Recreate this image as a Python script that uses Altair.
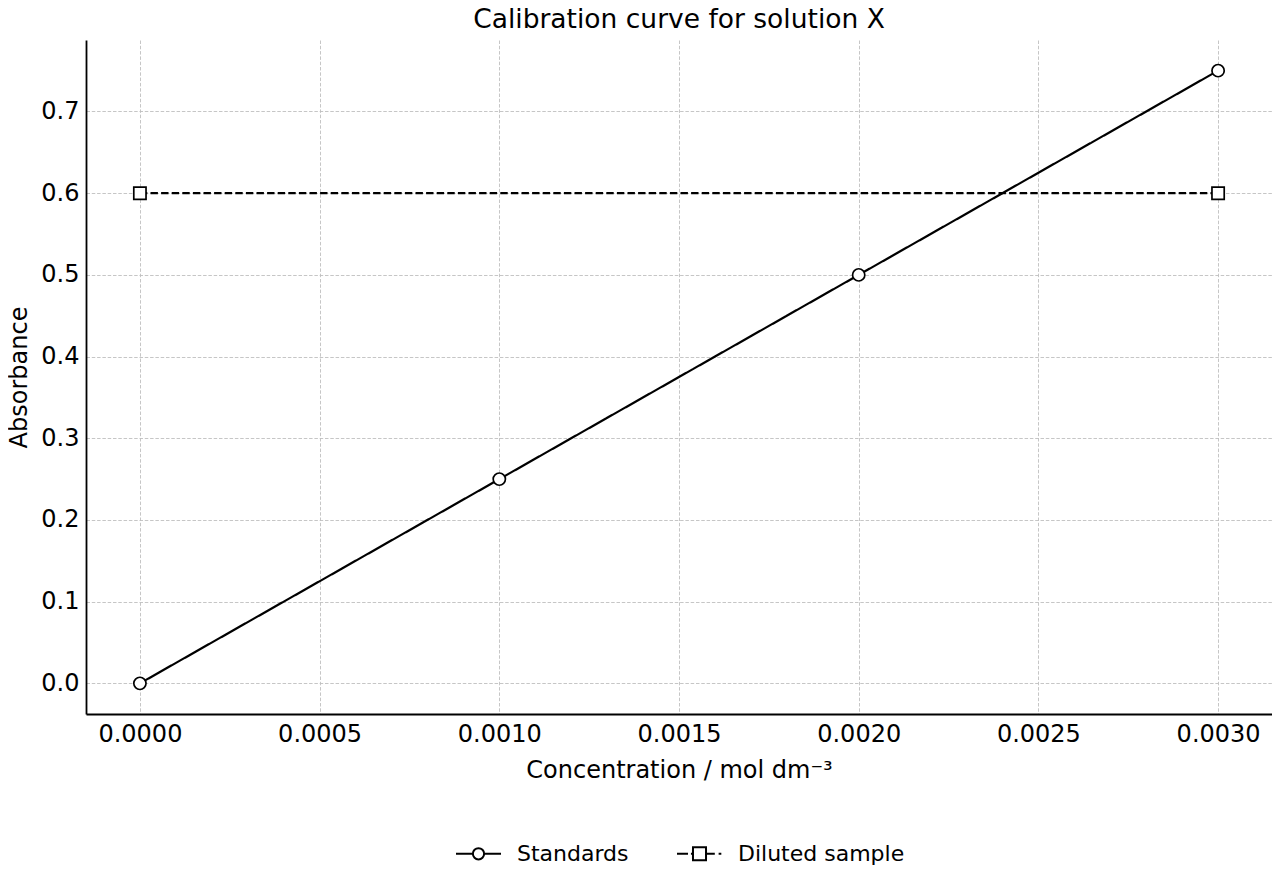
import altair as alt
import pandas as pd

# ---- data ----
std_conc = [0.0, 0.001, 0.002, 0.003]
std_abs = [0.0, 0.25, 0.50, 0.75]
dil_conc = [0.0, 0.003]
dil_abs = [0.60, 0.60]
series_names = ["Standards", "Diluted sample"]
x_ticks = [0.0, 0.0005, 0.001, 0.0015, 0.002, 0.0025, 0.003]
y_ticks = [0.0, 0.1, 0.2, 0.3, 0.4, 0.5, 0.6, 0.7]

df = pd.concat([
    pd.DataFrame({"conc": std_conc, "abs": std_abs, "series": series_names[0]}),
    pd.DataFrame({"conc": dil_conc, "abs": dil_abs, "series": series_names[1]}),
], ignore_index=True)

FONT = "DejaVu Sans"

x_enc = alt.X(
    "conc:Q",
    scale=alt.Scale(domain=[-0.00015, 0.00315], nice=False, zero=False),
    axis=alt.Axis(values=x_ticks, format=".4f", title="Concentration / mol dm⁻³",
                  labelPadding=8, titlePadding=12),
)
y_enc = alt.Y(
    "abs:Q",
    scale=alt.Scale(domain=[-0.0375, 0.7875], nice=False, zero=False),
    axis=alt.Axis(values=y_ticks, format=".1f", title="Absorbance",
                  labelPadding=7, titlePadding=9),
)

base = alt.Chart(df)

lines = base.mark_line(color="black", strokeWidth=2.2).encode(
    x=x_enc,
    y=y_enc,
    detail="series:N",
    strokeDash=alt.StrokeDash(
        "series:N",
        scale=alt.Scale(domain=series_names, range=[[1, 0], [7.4, 3.2]]),
        legend=None,
    ),
)

points = base.mark_point(filled=True, fill="white", stroke="black",
                         strokeWidth=1.7, size=150, opacity=1).encode(
    x=x_enc,
    y=y_enc,
    shape=alt.Shape(
        "series:N",
        scale=alt.Scale(domain=series_names, range=["circle", "square"]),
        legend=None,
    ),
)

std_path = ("M-1,0H-0.25M0.25,0H1M0.25,0A0.25,0.25,0,1,1,-0.25,0"
            "A0.25,0.25,0,1,1,0.25,0Z")
dil_path = ("M-1,0H-0.51M-0.38,0H-0.29M0.29,0H0.68M0.85,0H0.97"
            "M-0.29,-0.29H0.29V0.29H-0.29Z")

# legend-only layer: no rows drawn, legend built from the explicit scale domain
legend_layer = base.mark_point(filled=False, color="black", strokeWidth=2,
                               opacity=1).encode(
    x=x_enc,
    y=y_enc,
    shape=alt.Shape(
        "series:N",
        scale=alt.Scale(domain=series_names, range=[std_path, dil_path]),
        legend=alt.Legend(
            title=None, orient="none", direction="horizontal",
            legendX=369, legendY=790,
            symbolSize=2025, symbolStrokeWidth=2, symbolOpacity=1,
            symbolStrokeColor="black",
            labelFontSize=22, labelFont=FONT, labelColor="black",
            labelOffset=15, columnPadding=44, padding=0, labelLimit=400,
        ),
    ),
).transform_filter("datum.conc < -1")

chart = (
    alt.layer(lines, points, legend_layer)
    .resolve_scale(shape="independent")
    .properties(
        width=1186,
        height=674,
        title=alt.TitleParams("Calibration curve for solution X", fontSize=26.5,
                              font=FONT, fontWeight="normal", color="black",
                              offset=7, anchor="middle"),
        autosize=alt.AutoSizeParams(type="none"),
        padding={"left": 78, "top": 32, "right": 0, "bottom": 158},
    )
    .configure_view(stroke=None)
    .configure_axis(
        labelFont=FONT, titleFont=FONT, labelFontSize=24, titleFontSize=24,
        titleFontWeight="normal", labelColor="black", titleColor="black",
        domainColor="black", domainWidth=1.8, ticks=False,
        grid=True, gridColor="#c0c0c0", gridDash=[3.5, 1.8], gridWidth=0.9,
        labelFlush=False,
    )
)

chart.save("out.html", embed_options={"renderer": "svg", "actions": False})
